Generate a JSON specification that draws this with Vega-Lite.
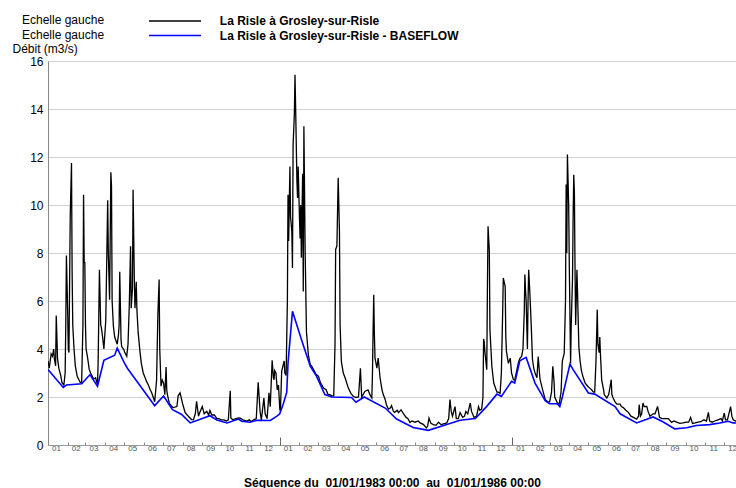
{
  "$schema": "https://vega.github.io/schema/vega-lite/v6.json",
  "width": 688,
  "height": 384,
  "autosize": "none",
  "padding": {"left": 48, "top": 61, "right": 0, "bottom": 43},
  "background": "white",
  "config": {"font": "Liberation Sans", "view": {"stroke": null}},
  "datasets": {
    "flow": [
      {"d":"1983-01-01","q":3.5},{"d":"1983-01-03","q":3.2},{"d":"1983-01-06","q":3.8},{"d":"1983-01-08","q":3.7},{"d":"1983-01-10","q":4.0},{"d":"1983-01-11","q":3.6},{"d":"1983-01-13","q":3.3},{"d":"1983-01-14","q":5.4},{"d":"1983-01-16","q":3.6},{"d":"1983-01-18","q":3.2},{"d":"1983-01-21","q":2.9},{"d":"1983-01-23","q":2.6},{"d":"1983-01-26","q":2.5},{"d":"1983-01-28","q":3.0},{"d":"1983-01-29","q":5.0},{"d":"1983-01-30","q":7.9},
      {"d":"1983-02-01","q":5.5},{"d":"1983-02-02","q":4.0},{"d":"1983-02-03","q":3.85},{"d":"1983-02-05","q":9.5},{"d":"1983-02-07","q":11.75},{"d":"1983-02-08","q":7.2},{"d":"1983-02-09","q":5.0},{"d":"1983-02-11","q":4.0},{"d":"1983-02-13","q":3.3},{"d":"1983-02-16","q":2.86},{"d":"1983-02-19","q":2.7},{"d":"1983-02-21","q":2.6},{"d":"1983-02-23","q":2.6},{"d":"1983-02-25","q":5.0},{"d":"1983-02-26","q":10.43},{"d":"1983-02-27","q":7.6},{"d":"1983-02-28","q":7.6},
      {"d":"1983-03-01","q":5.0},{"d":"1983-03-02","q":4.0},{"d":"1983-03-04","q":3.7},{"d":"1983-03-07","q":3.14},{"d":"1983-03-09","q":3.0},{"d":"1983-03-12","q":2.85},{"d":"1983-03-14","q":2.75},{"d":"1983-03-17","q":2.8},{"d":"1983-03-20","q":2.5},{"d":"1983-03-21","q":3.5},{"d":"1983-03-23","q":7.3},{"d":"1983-03-25","q":5.0},{"d":"1983-03-26","q":4.9},{"d":"1983-03-28","q":4.5},{"d":"1983-03-30","q":4.0},
      {"d":"1983-04-02","q":5.2},{"d":"1983-04-05","q":10.2},{"d":"1983-04-06","q":8.0},{"d":"1983-04-08","q":6.05},{"d":"1983-04-10","q":11.36},{"d":"1983-04-11","q":10.8},{"d":"1983-04-12","q":6.0},{"d":"1983-04-14","q":4.94},{"d":"1983-04-16","q":4.5},{"d":"1983-04-20","q":4.2},{"d":"1983-04-22","q":4.6},{"d":"1983-04-23","q":5.0},{"d":"1983-04-24","q":7.22},{"d":"1983-04-26","q":4.4},{"d":"1983-04-27","q":4.1},{"d":"1983-04-30","q":4.0},
      {"d":"1983-05-02","q":3.85},{"d":"1983-05-05","q":3.7},{"d":"1983-05-07","q":4.2},{"d":"1983-05-09","q":5.8},{"d":"1983-05-11","q":8.28},{"d":"1983-05-12","q":5.7},{"d":"1983-05-14","q":6.5},{"d":"1983-05-15","q":10.64},{"d":"1983-05-17","q":6.8},{"d":"1983-05-18","q":5.7},{"d":"1983-05-20","q":6.8},{"d":"1983-05-21","q":5.65},{"d":"1983-05-23","q":4.68},{"d":"1983-05-26","q":3.85},{"d":"1983-05-28","q":3.4},{"d":"1983-05-31","q":3.0},
      {"d":"1983-06-03","q":2.8},{"d":"1983-06-05","q":2.66},{"d":"1983-06-08","q":2.5},{"d":"1983-06-11","q":2.3},{"d":"1983-06-13","q":2.2},{"d":"1983-06-16","q":1.97},{"d":"1983-06-18","q":1.8},{"d":"1983-06-21","q":2.7},{"d":"1983-06-23","q":5.4},{"d":"1983-06-25","q":6.9},{"d":"1983-06-26","q":4.0},{"d":"1983-06-28","q":2.45},{"d":"1983-06-30","q":2.7},
      {"d":"1983-07-02","q":2.58},{"d":"1983-07-04","q":2.1},{"d":"1983-07-06","q":3.25},{"d":"1983-07-07","q":2.3},{"d":"1983-07-08","q":2.1},{"d":"1983-07-11","q":1.75},{"d":"1983-07-15","q":1.6},{"d":"1983-07-17","q":1.56},{"d":"1983-07-23","q":1.6},{"d":"1983-07-25","q":2.05},{"d":"1983-07-28","q":2.17},
      {"d":"1983-08-01","q":1.72},{"d":"1983-08-05","q":1.35},{"d":"1983-08-10","q":1.2},{"d":"1983-08-15","q":1.06},{"d":"1983-08-18","q":1.05},{"d":"1983-08-21","q":1.3},{"d":"1983-08-23","q":1.82},{"d":"1983-08-26","q":1.2},{"d":"1983-08-28","q":1.35},
      {"d":"1983-09-01","q":1.6},{"d":"1983-09-04","q":1.3},{"d":"1983-09-08","q":1.4},{"d":"1983-09-11","q":1.25},{"d":"1983-09-13","q":1.44},{"d":"1983-09-16","q":1.25},{"d":"1983-09-20","q":1.25},{"d":"1983-09-24","q":1.1},{"d":"1983-09-27","q":1.1},
      {"d":"1983-10-01","q":1.05},{"d":"1983-10-05","q":1.05},{"d":"1983-10-09","q":1.0},{"d":"1983-10-12","q":1.05},{"d":"1983-10-15","q":2.26},{"d":"1983-10-16","q":1.13},{"d":"1983-10-19","q":1.05},{"d":"1983-10-24","q":1.1},{"d":"1983-10-27","q":1.12},{"d":"1983-10-30","q":1.13},
      {"d":"1983-11-04","q":1.05},{"d":"1983-11-10","q":1.0},{"d":"1983-11-14","q":1.05},{"d":"1983-11-17","q":0.98},{"d":"1983-11-21","q":1.05},{"d":"1983-11-25","q":1.1},{"d":"1983-11-28","q":2.61},
      {"d":"1983-12-01","q":1.4},{"d":"1983-12-03","q":1.05},{"d":"1983-12-07","q":1.96},{"d":"1983-12-09","q":1.3},{"d":"1983-12-12","q":1.1},{"d":"1983-12-15","q":2.17},{"d":"1983-12-17","q":1.6},{"d":"1983-12-20","q":3.53},{"d":"1983-12-22","q":2.8},{"d":"1983-12-23","q":2.72},{"d":"1983-12-24","q":3.1},{"d":"1983-12-26","q":3.0},{"d":"1983-12-28","q":2.3},{"d":"1983-12-30","q":2.5},
      {"d":"1984-01-01","q":1.5},{"d":"1984-01-02","q":1.4},{"d":"1984-01-04","q":3.07},{"d":"1984-01-06","q":3.3},{"d":"1984-01-08","q":3.5},{"d":"1984-01-09","q":3.0},{"d":"1984-01-11","q":2.9},{"d":"1984-01-12","q":4.5},{"d":"1984-01-13","q":6.0},{"d":"1984-01-14","q":10.43},{"d":"1984-01-15","q":8.5},{"d":"1984-01-17","q":11.6},{"d":"1984-01-18","q":9.5},{"d":"1984-01-20","q":8.9},{"d":"1984-01-21","q":7.38},{"d":"1984-01-22","q":12.5},{"d":"1984-01-24","q":13.8},{"d":"1984-01-25","q":15.43},{"d":"1984-01-26","q":14.04},{"d":"1984-01-28","q":11.0},{"d":"1984-01-29","q":10.29},{"d":"1984-01-30","q":11.6},
      {"d":"1984-02-01","q":9.5},{"d":"1984-02-02","q":8.6},{"d":"1984-02-03","q":10.0},{"d":"1984-02-04","q":7.8},{"d":"1984-02-06","q":11.3},{"d":"1984-02-07","q":6.4},{"d":"1984-02-08","q":13.28},{"d":"1984-02-10","q":8.0},{"d":"1984-02-11","q":6.4},{"d":"1984-02-12","q":4.73},{"d":"1984-02-15","q":3.76},{"d":"1984-02-18","q":3.35},{"d":"1984-02-20","q":3.3},{"d":"1984-02-23","q":3.15},{"d":"1984-02-27","q":2.95},
      {"d":"1984-03-02","q":2.86},{"d":"1984-03-05","q":2.6},{"d":"1984-03-10","q":2.37},{"d":"1984-03-14","q":2.3},{"d":"1984-03-17","q":2.1},{"d":"1984-03-20","q":2.1},{"d":"1984-03-23","q":2.05},{"d":"1984-03-26","q":2.05},{"d":"1984-03-28","q":4.18},{"d":"1984-03-29","q":8.14},{"d":"1984-03-31","q":8.3},
      {"d":"1984-04-02","q":11.13},{"d":"1984-04-04","q":8.9},{"d":"1984-04-05","q":5.0},{"d":"1984-04-07","q":3.48},{"d":"1984-04-10","q":3.0},{"d":"1984-04-13","q":2.79},{"d":"1984-04-18","q":2.37},{"d":"1984-04-22","q":2.15},{"d":"1984-04-26","q":2.02},{"d":"1984-04-30","q":1.98},
      {"d":"1984-05-04","q":2.0},{"d":"1984-05-07","q":3.2},{"d":"1984-05-09","q":2.0},{"d":"1984-05-14","q":2.23},{"d":"1984-05-19","q":2.3},{"d":"1984-05-22","q":2.1},{"d":"1984-05-25","q":1.96},{"d":"1984-05-26","q":3.0},{"d":"1984-05-27","q":4.8},{"d":"1984-05-28","q":6.26},{"d":"1984-05-29","q":4.6},{"d":"1984-05-30","q":3.62},
      {"d":"1984-06-02","q":3.2},{"d":"1984-06-04","q":3.62},{"d":"1984-06-07","q":2.79},{"d":"1984-06-10","q":2.3},{"d":"1984-06-12","q":2.1},{"d":"1984-06-15","q":1.9},{"d":"1984-06-17","q":1.68},{"d":"1984-06-20","q":1.5},{"d":"1984-06-23","q":1.54},{"d":"1984-06-25","q":1.64},{"d":"1984-06-28","q":1.4},{"d":"1984-06-30","q":1.36},
      {"d":"1984-07-04","q":1.45},{"d":"1984-07-06","q":1.35},{"d":"1984-07-10","q":1.47},{"d":"1984-07-14","q":1.3},{"d":"1984-07-18","q":1.15},{"d":"1984-07-21","q":1.1},{"d":"1984-07-24","q":0.94},{"d":"1984-07-27","q":1.0},
      {"d":"1984-08-01","q":0.95},{"d":"1984-08-06","q":1.0},{"d":"1984-08-09","q":0.92},{"d":"1984-08-14","q":0.86},{"d":"1984-08-19","q":0.71},{"d":"1984-08-21","q":0.8},{"d":"1984-08-23","q":1.12},{"d":"1984-08-26","q":0.9},{"d":"1984-08-30","q":0.85},
      {"d":"1984-09-03","q":0.82},{"d":"1984-09-07","q":0.95},{"d":"1984-09-11","q":0.85},{"d":"1984-09-15","q":0.88},{"d":"1984-09-20","q":0.92},{"d":"1984-09-23","q":1.1},{"d":"1984-09-25","q":1.89},{"d":"1984-09-27","q":1.4},{"d":"1984-09-29","q":1.2},
      {"d":"1984-10-03","q":1.6},{"d":"1984-10-05","q":1.1},{"d":"1984-10-08","q":1.1},{"d":"1984-10-11","q":1.35},{"d":"1984-10-15","q":1.15},{"d":"1984-10-18","q":1.2},{"d":"1984-10-20","q":1.4},{"d":"1984-10-23","q":1.3},{"d":"1984-10-27","q":1.75},{"d":"1984-10-29","q":1.4},
      {"d":"1984-11-02","q":1.15},{"d":"1984-11-06","q":1.2},{"d":"1984-11-09","q":1.6},{"d":"1984-11-11","q":1.45},{"d":"1984-11-14","q":1.5},{"d":"1984-11-16","q":2.0},{"d":"1984-11-17","q":4.42},{"d":"1984-11-18","q":4.3},{"d":"1984-11-19","q":3.9},{"d":"1984-11-22","q":3.14},{"d":"1984-11-23","q":6.5},{"d":"1984-11-24","q":9.11},{"d":"1984-11-26","q":8.1},{"d":"1984-11-27","q":4.8},{"d":"1984-11-30","q":3.28},
      {"d":"1984-12-03","q":2.58},{"d":"1984-12-08","q":2.2},{"d":"1984-12-10","q":2.2},{"d":"1984-12-13","q":2.15},{"d":"1984-12-15","q":3.0},{"d":"1984-12-17","q":5.5},{"d":"1984-12-18","q":6.96},{"d":"1984-12-21","q":6.6},{"d":"1984-12-22","q":4.5},{"d":"1984-12-23","q":3.9},{"d":"1984-12-26","q":3.4},{"d":"1984-12-29","q":3.62},{"d":"1984-12-31","q":3.0},
      {"d":"1985-01-03","q":2.72},{"d":"1985-01-05","q":2.7},{"d":"1985-01-09","q":3.2},{"d":"1985-01-11","q":3.45},{"d":"1985-01-13","q":3.6},{"d":"1985-01-16","q":3.7},{"d":"1985-01-18","q":4.0},{"d":"1985-01-20","q":5.5},{"d":"1985-01-21","q":7.1},{"d":"1985-01-22","q":6.5},{"d":"1985-01-23","q":6.0},{"d":"1985-01-25","q":4.0},{"d":"1985-01-26","q":6.0},{"d":"1985-01-27","q":7.3},{"d":"1985-01-29","q":6.25},{"d":"1985-01-31","q":5.0},
      {"d":"1985-02-02","q":3.55},{"d":"1985-02-04","q":3.2},{"d":"1985-02-06","q":3.0},{"d":"1985-02-09","q":2.8},{"d":"1985-02-11","q":3.69},{"d":"1985-02-13","q":3.0},{"d":"1985-02-14","q":2.72},{"d":"1985-02-18","q":2.3},{"d":"1985-02-22","q":1.9},{"d":"1985-02-26","q":1.8},
      {"d":"1985-03-01","q":1.8},{"d":"1985-03-04","q":2.2},{"d":"1985-03-06","q":3.28},{"d":"1985-03-08","q":2.6},{"d":"1985-03-09","q":2.0},{"d":"1985-03-13","q":1.76},{"d":"1985-03-16","q":1.7},{"d":"1985-03-19","q":2.2},{"d":"1985-03-21","q":3.5},{"d":"1985-03-24","q":3.83},{"d":"1985-03-26","q":6.0},{"d":"1985-03-27","q":10.85},{"d":"1985-03-28","q":8.0},{"d":"1985-03-29","q":12.1},{"d":"1985-03-31","q":10.0},
      {"d":"1985-04-01","q":7.4},{"d":"1985-04-03","q":3.4},{"d":"1985-04-04","q":5.0},{"d":"1985-04-06","q":6.9},{"d":"1985-04-07","q":9.5},{"d":"1985-04-08","q":11.26},{"d":"1985-04-09","q":10.5},{"d":"1985-04-10","q":7.3},{"d":"1985-04-11","q":5.0},{"d":"1985-04-13","q":7.3},{"d":"1985-04-14","q":6.3},{"d":"1985-04-16","q":4.1},{"d":"1985-04-18","q":3.5},{"d":"1985-04-20","q":3.1},{"d":"1985-04-23","q":2.8},{"d":"1985-04-26","q":2.58},{"d":"1985-04-30","q":2.45},
      {"d":"1985-05-03","q":2.37},{"d":"1985-05-06","q":2.3},{"d":"1985-05-09","q":2.2},{"d":"1985-05-11","q":2.2},{"d":"1985-05-13","q":3.5},{"d":"1985-05-15","q":5.64},{"d":"1985-05-16","q":4.2},{"d":"1985-05-18","q":3.85},{"d":"1985-05-19","q":4.5},{"d":"1985-05-20","q":3.8},{"d":"1985-05-22","q":2.7},{"d":"1985-05-25","q":2.3},{"d":"1985-05-26","q":2.1},{"d":"1985-05-30","q":1.96},
      {"d":"1985-06-02","q":2.1},{"d":"1985-06-04","q":2.4},{"d":"1985-06-06","q":2.72},{"d":"1985-06-07","q":2.1},{"d":"1985-06-09","q":1.96},{"d":"1985-06-12","q":1.8},{"d":"1985-06-15","q":1.7},{"d":"1985-06-20","q":1.7},{"d":"1985-06-22","q":1.6},{"d":"1985-06-25","q":1.56},{"d":"1985-06-29","q":1.45},
      {"d":"1985-07-03","q":1.36},{"d":"1985-07-07","q":1.2},{"d":"1985-07-11","q":1.15},{"d":"1985-07-16","q":1.08},{"d":"1985-07-19","q":1.2},{"d":"1985-07-20","q":1.68},{"d":"1985-07-22","q":1.2},{"d":"1985-07-24","q":1.3},{"d":"1985-07-26","q":1.75},{"d":"1985-07-28","q":1.6},
      {"d":"1985-08-01","q":1.61},{"d":"1985-08-03","q":1.4},{"d":"1985-08-06","q":1.2},{"d":"1985-08-11","q":1.3},{"d":"1985-08-14","q":1.3},{"d":"1985-08-18","q":1.61},{"d":"1985-08-21","q":1.15},{"d":"1985-08-25","q":1.1},{"d":"1985-08-30","q":1.1},
      {"d":"1985-09-04","q":1.1},{"d":"1985-09-09","q":0.94},{"d":"1985-09-13","q":1.0},{"d":"1985-09-17","q":0.95},{"d":"1985-09-22","q":0.9},{"d":"1985-09-27","q":0.92},
      {"d":"1985-10-02","q":0.95},{"d":"1985-10-06","q":0.95},{"d":"1985-10-09","q":1.15},{"d":"1985-10-12","q":0.9},{"d":"1985-10-16","q":0.92},{"d":"1985-10-21","q":0.95},{"d":"1985-10-25","q":0.97},{"d":"1985-10-30","q":1.05},
      {"d":"1985-11-03","q":1.0},{"d":"1985-11-06","q":1.36},{"d":"1985-11-08","q":1.0},{"d":"1985-11-12","q":0.95},{"d":"1985-11-16","q":1.0},{"d":"1985-11-21","q":1.05},{"d":"1985-11-26","q":1.1},{"d":"1985-11-28","q":1.0},
      {"d":"1985-12-01","q":1.33},{"d":"1985-12-03","q":1.05},{"d":"1985-12-06","q":1.05},{"d":"1985-12-11","q":1.6},{"d":"1985-12-13","q":1.2},{"d":"1985-12-15","q":1.05},{"d":"1985-12-19","q":1.0},{"d":"1985-12-26","q":0.98},{"d":"1985-12-31","q":0.95}
    ],
    "base": [
      {"d":"1983-01-01","q":3.15},{"d":"1983-01-25","q":2.4},{"d":"1983-01-30","q":2.5},{"d":"1983-02-23","q":2.55},{"d":"1983-03-08","q":2.93},{"d":"1983-03-20","q":2.45},{"d":"1983-03-30","q":3.53},{"d":"1983-04-16","q":3.74},{"d":"1983-04-20","q":4.04},{"d":"1983-05-01","q":3.43},{"d":"1983-05-06","q":3.2},{"d":"1983-06-18","q":1.64},{"d":"1983-07-02","q":2.04},{"d":"1983-07-16","q":1.47},{"d":"1983-07-30","q":1.28},{"d":"1983-08-13","q":0.92},{"d":"1983-09-13","q":1.22},{"d":"1983-09-24","q":1.04},{"d":"1983-10-10","q":0.92},{"d":"1983-10-28","q":1.08},{"d":"1983-11-02","q":0.99},{"d":"1983-11-15","q":0.95},{"d":"1983-11-26","q":1.03},{"d":"1983-12-17","q":1.02},{"d":"1983-12-27","q":1.19},
      {"d":"1984-01-01","q":1.3},{"d":"1984-01-07","q":1.75},{"d":"1984-01-12","q":2.2},{"d":"1984-01-14","q":3.42},{"d":"1984-01-21","q":5.57},{"d":"1984-02-05","q":4.32},{"d":"1984-02-18","q":3.28},{"d":"1984-02-28","q":2.86},{"d":"1984-03-12","q":2.1},{"d":"1984-03-23","q":2.0},{"d":"1984-04-23","q":1.98},{"d":"1984-04-30","q":1.78},{"d":"1984-05-13","q":2.0},{"d":"1984-06-15","q":1.54},{"d":"1984-07-03","q":1.08},{"d":"1984-07-29","q":0.73},{"d":"1984-08-22","q":0.61},{"d":"1984-09-20","q":0.85},{"d":"1984-10-11","q":1.03},{"d":"1984-11-04","q":1.1},{"d":"1984-11-22","q":1.61},{"d":"1984-12-08","q":2.12},{"d":"1984-12-15","q":2.02},{"d":"1984-12-31","q":2.65},
      {"d":"1985-01-05","q":2.58},{"d":"1985-01-13","q":3.51},{"d":"1985-01-23","q":3.65},{"d":"1985-02-06","q":2.58},{"d":"1985-02-22","q":1.85},{"d":"1985-03-01","q":1.72},{"d":"1985-03-13","q":1.72},{"d":"1985-03-17","q":1.6},{"d":"1985-03-21","q":2.0},{"d":"1985-04-02","q":3.37},{"d":"1985-04-07","q":3.14},{"d":"1985-05-01","q":2.17},{"d":"1985-05-11","q":2.12},{"d":"1985-06-12","q":1.6},{"d":"1985-06-20","q":1.3},{"d":"1985-07-16","q":0.92},{"d":"1985-08-11","q":1.17},{"d":"1985-08-27","q":0.96},{"d":"1985-09-14","q":0.67},{"d":"1985-10-03","q":0.72},{"d":"1985-10-18","q":0.81},{"d":"1985-11-08","q":0.85},{"d":"1985-11-24","q":0.92},{"d":"1985-12-07","q":0.99},{"d":"1985-12-15","q":0.92},{"d":"1985-12-31","q":0.9}
    ]
  },
  "encoding": {
    "y": {
      "field": "q", "type": "quantitative",
      "scale": {"domain": [0, 16], "nice": false, "zero": true},
      "axis": {
        "values": [0, 2, 4, 6, 8, 10, 12, 14, 16],
        "title": "Débit (m3/s)", "titleAngle": 0, "titleAlign": "left", "titleBaseline": "alphabetic",
        "titleX": -36, "titleY": -9, "titleFontSize": 12, "titleFontWeight": "normal", "titleColor": "#000",
        "labelFontSize": 12, "labelColor": "#000", "labelPadding": 5, "ticks": false,
        "domainColor": "#888", "gridColor": "#d0d0d0", "grid": true
      }
    }
  },
  "layer": [
    {
      "data": {"name": "flow"},
      "mark": {"type": "line", "strokeWidth": 1.3, "clip": true},
      "encoding": {
        "x": {
          "field": "d", "type": "temporal",
          "scale": {"type": "utc", "domain": [{"year": 1983, "month": 1, "date": 1, "utc": true}, {"year": 1985, "month": 12, "date": 19, "hours": 12, "utc": true}]},
          "axis": {
            "orient": "bottom", "format": "%m", "tickCount": {"interval": "month", "step": 1},
            "labelOffset": 8, "labelFontSize": 8, "labelColor": "#555", "labelPadding": 2, "labelOverlap": false, "labelFlush": false,
            "tickSize": -3, "tickColor": "#888", "domainColor": "#999", "grid": false,
            "title": "Séquence du\u00a0 01/01/1983 00:00\u00a0 au\u00a0 01/01/1986 00:00",
            "titleFontSize": 12, "titleFontWeight": "bold", "titleColor": "#000", "titleBaseline": "alphabetic", "titleY": 41
          }
        },
        "color": {
          "datum": "La Risle à Grosley-sur-Risle",
          "scale": {"domain": ["La Risle à Grosley-sur-Risle", "La Risle à Grosley-sur-Risle - BASEFLOW"], "range": ["#000000", "#0000ff"]},
          "legend": {
            "title": ["Echelle gauche", "Echelle gauche"], "titleOrient": "left", "titleAnchor": "start",
            "titleFontSize": 12, "titleFontWeight": "normal", "titleColor": "#000", "titleLineHeight": 14.5,
            "titleBaseline": "top", "titlePadding": 64, "titleLimit": 200,
            "orient": "none", "legendX": -26, "legendY": -46,
            "symbolType": "M-5,0H5", "symbolSize": 108, "symbolStrokeWidth": 1.4, "symbolFillColor": "transparent",
            "labelOffset": 38.8, "labelFontSize": 12, "labelFontWeight": "bold", "labelColor": "#000", "labelLimit": 400,
            "rowPadding": 2.5, "padding": 0
          }
        }
      }
    },
    {
      "data": {"name": "base"},
      "mark": {"type": "line", "strokeWidth": 1.6, "clip": true},
      "encoding": {
        "x": {
          "field": "d", "type": "temporal",
          "axis": {
            "orient": "bottom", "values": [{"year": 1984, "month": 1, "date": 1, "utc": true}, {"year": 1985, "month": 1, "date": 1, "utc": true}],
            "labels": false, "tickSize": -8, "tickColor": "#666", "domain": false, "grid": false, "title": null
          }
        },
        "color": {"datum": "La Risle à Grosley-sur-Risle - BASEFLOW"}
      }
    }
  ],
  "resolve": {"axis": {"x": "independent"}}
}
